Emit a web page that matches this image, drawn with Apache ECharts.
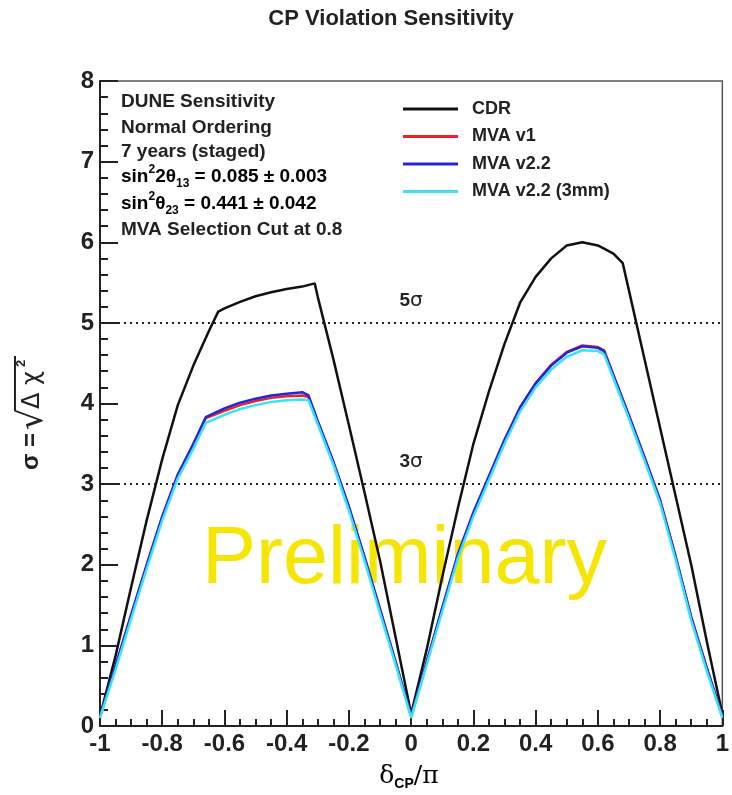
<!DOCTYPE html>
<html>
<head>
<meta charset="utf-8">
<script src="https://cdn.jsdelivr.net/npm/echarts@6/dist/echarts.min.js"></script>
<style>
html, body { margin: 0; padding: 0; background: #fff; }
#main { width: 732px; height: 795px; }
</style>
</head>
<body>
<div id="main"></div>
<script>
// CP violation sensitivity vs deltaCP/pi

var cdrX = [-1, -0.95, -0.9, -0.85, -0.8, -0.75, -0.7, -0.65, -0.62, -0.6, -0.55, -0.5, -0.45, -0.4, -0.35,
    -0.31, -0.3, -0.25, -0.2, -0.15, -0.1, -0.05, 0, 0.05, 0.1, 0.15, 0.2, 0.25, 0.3, 0.35, 0.4, 0.45,
    0.5, 0.55, 0.6, 0.65, 0.68, 0.7, 0.75, 0.8, 0.85, 0.9, 0.95, 1];
var cdrY = [0.12, 0.87, 1.72, 2.55, 3.31, 3.98, 4.47, 4.9, 5.14, 5.18, 5.26, 5.33, 5.38, 5.42, 5.45,
    5.49, 5.32, 4.55, 3.73, 2.9, 2.05, 1.1, 0.15, 0.95, 1.85, 2.7, 3.5, 4.15, 4.74, 5.25, 5.57, 5.8,
    5.96, 6.0, 5.96, 5.86, 5.74, 5.4, 4.55, 3.7, 2.85, 2.0, 1.05, 0.15];

var mvaX = [-1, -0.95, -0.9, -0.85, -0.8, -0.75, -0.7, -0.66, -0.6, -0.55, -0.5, -0.45, -0.4, -0.35,
    -0.33, -0.3, -0.25, -0.2, -0.15, -0.1, -0.05, 0, 0.05, 0.1, 0.15, 0.2, 0.25, 0.3, 0.35, 0.4, 0.45,
    0.5, 0.55, 0.6, 0.62, 0.65, 0.7, 0.75, 0.8, 0.85, 0.9, 0.95, 1];
var mvaV1 = [0.12, 0.74, 1.37, 1.99, 2.59, 3.11, 3.49, 3.82, 3.91, 3.98, 4.03, 4.07, 4.09, 4.1,
    4.08, 3.77, 3.27, 2.71, 2.09, 1.44, 0.79, 0.12, 0.79, 1.46, 2.12, 2.64, 3.09, 3.54, 3.95, 4.25, 4.48,
    4.64, 4.72, 4.7, 4.66, 4.35, 3.85, 3.33, 2.8, 2.1, 1.35, 0.72, 0.12];
var mvaV22 = [0.12, 0.75, 1.38, 2.0, 2.6, 3.12, 3.5, 3.83, 3.94, 4.01, 4.06, 4.1, 4.12, 4.14,
    4.1, 3.78, 3.28, 2.72, 2.1, 1.45, 0.8, 0.12, 0.8, 1.47, 2.13, 2.65, 3.1, 3.55, 3.95, 4.25, 4.47,
    4.63, 4.71, 4.69, 4.65, 4.35, 3.85, 3.33, 2.8, 2.1, 1.35, 0.72, 0.12];
var mva3mm = [0.1, 0.7, 1.33, 1.95, 2.55, 3.07, 3.44, 3.76, 3.86, 3.93, 3.98, 4.02, 4.04, 4.05,
    4.04, 3.74, 3.24, 2.67, 2.05, 1.4, 0.76, 0.1, 0.76, 1.42, 2.08, 2.6, 3.05, 3.5, 3.9, 4.2, 4.42,
    4.58, 4.66, 4.65, 4.61, 4.31, 3.81, 3.29, 2.76, 2.06, 1.31, 0.68, 0.1];

var seriesNames = ['CDR', 'MVA v1', 'MVA v2.2', 'MVA v2.2 (3mm)'];
var seriesColors = ['#111111', '#e8242b', '#2424dd', '#38e4f2'];
var sigmaLevels = [5, 3];
var infoLines = [
    'DUNE Sensitivity',
    'Normal Ordering',
    '7 years (staged)',
    '{t|sin}{sup|2}{t|2θ}{sub|13}{t| = 0.085 ± 0.003}',
    '{t|sin}{sup|2}{t|θ}{sub|23}{t| = 0.441 ± 0.042}',
    'MVA Selection Cut at 0.8'
];

function pairs(xs, ys) {
    var out = [];
    for (var i = 0; i < xs.length; i++) out.push([xs[i], ys[i]]);
    return out;
}

var FONT = '"Liberation Sans", Arial, Helvetica, sans-serif';
var richInfo = {
    t: { fontSize: 19, fontWeight: 'bold', fontFamily: FONT, color: '#222', lineHeight: 26, verticalAlign: 'middle' },
    sup: { fontSize: 12, fontWeight: 'bold', fontFamily: FONT, color: '#222', lineHeight: 14, verticalAlign: 'top' },
    sub: { fontSize: 12, fontWeight: 'bold', fontFamily: FONT, color: '#222', lineHeight: 12, verticalAlign: 'bottom' }
};

var graphics = [];
// Preliminary watermark
graphics.push({
    type: 'text', left: 202, top: 520, z: 0, silent: true,
    style: { text: 'Preliminary', font: '81px ' + FONT, fill: '#f6e500' }
});
// info block
var infoY = [101.7, 127.3, 151.7, 176.7, 203.3, 230];
infoLines.forEach(function (s, i) {
    var isRich = s.indexOf('{') === 0;
    graphics.push({
        type: 'text', x: 121, y: infoY[i], z: 10, silent: true,
        style: isRich ? {
            text: s, rich: richInfo, verticalAlign: 'middle', align: 'left'
        } : {
            text: s, font: 'bold 19px ' + FONT, fill: '#222', verticalAlign: 'middle', align: 'left'
        }
    });
});
// title
graphics.push({
    type: 'text', x: 391, y: 19, silent: true,
    style: { text: 'CP Violation Sensitivity', font: 'bold 22px ' + FONT, fill: '#222', align: 'center', verticalAlign: 'middle' }
});
// x axis name
graphics.push({
    type: 'text', x: 409, y: 776, silent: true,
    style: {
        text: '{d|δ}{s|CP}{d|/π}', align: 'center', verticalAlign: 'middle',
        rich: {
            d: { fontSize: 25, fontFamily: '"DejaVu Serif", serif', color: '#222', lineHeight: 30, verticalAlign: 'middle' },
            s: { fontSize: 14, fontWeight: 'bold', fontFamily: FONT, color: '#222', lineHeight: 12, verticalAlign: 'bottom' }
        }
    }
});
// y axis name: sigma = sqrt(delta chi^2), rotated
graphics.push({
    type: 'group', x: 31, y: 400, rotation: Math.PI / 2, silent: true,
    children: [
        { type: 'text', x: -70, y: 0, style: { text: 'σ =', font: 'bold 24px ' + FONT, fill: '#222', align: 'left', verticalAlign: 'middle' } },
        { type: 'text', x: -30, y: 2, style: { text: '√', font: '34px "DejaVu Sans", sans-serif', fill: '#222', align: 'left', verticalAlign: 'middle' } },
        { type: 'text', x: -9, y: 2, style: { text: 'Δ χ', font: '24px "DejaVu Sans", sans-serif', fill: '#222', align: 'left', verticalAlign: 'middle' } },
        { type: 'text', x: 33, y: -10, style: { text: '2', font: 'bold 13px ' + FONT, fill: '#222', align: 'left', verticalAlign: 'middle' } },
        { type: 'line', shape: { x1: -11, y1: -16, x2: 44, y2: -16 }, style: { stroke: '#222', lineWidth: 2 } }
    ]
});

var chart = echarts.init(document.getElementById('main'));

var series = [
    {
        name: seriesNames[0], type: 'line', data: pairs(cdrX, cdrY),
        symbol: 'none', lineStyle: { width: 2.5, color: seriesColors[0] }, itemStyle: { color: seriesColors[0] },
        z: 3,
        markLine: {
            silent: true, symbol: 'none', animation: false,
            lineStyle: { type: [2, 4], width: 2.2, color: '#222' },
            label: {
                position: 'middle', distance: 12,
                formatter: function (p) { return '{n|' + p.value + '}{g|σ}'; },
                rich: {
                    n: { fontSize: 19, fontWeight: 'bold', fontFamily: FONT, color: '#222' },
                    g: { fontSize: 20, fontFamily: '"DejaVu Sans", sans-serif', color: '#222' }
                }
            },
            data: sigmaLevels.map(function (v) { return { yAxis: v }; })
        }
    },
    { name: seriesNames[1], type: 'line', data: pairs(mvaX, mvaV1), symbol: 'none', z: 4,
      lineStyle: { width: 2.5, color: seriesColors[1] }, itemStyle: { color: seriesColors[1] } },
    { name: seriesNames[2], type: 'line', data: pairs(mvaX, mvaV22), symbol: 'none', z: 5,
      lineStyle: { width: 2.5, color: seriesColors[2] }, itemStyle: { color: seriesColors[2] } },
    { name: seriesNames[3], type: 'line', data: pairs(mvaX, mva3mm), symbol: 'none', z: 6,
      lineStyle: { width: 2.5, color: seriesColors[3] }, itemStyle: { color: seriesColors[3] } }
];

chart.setOption({
    animation: false,
    backgroundColor: '#fff',
    grid: {
        left: 100, right: 9, top: 81, bottom: 69,
        show: true, borderColor: '#555', borderWidth: 1.5, backgroundColor: 'transparent'
    },
    legend: {
        orient: 'vertical', left: 398, top: 95,
        icon: 'rect', itemWidth: 55, itemHeight: 3, itemGap: 9.5,
        data: seriesNames,
        textStyle: { fontSize: 18, fontWeight: 'bold', fontFamily: FONT, color: '#222', lineHeight: 18, padding: [0, 0, 0, 9] }
    },
    xAxis: {
        type: 'value', min: -1, max: 1, interval: 0.2,
        axisLine: { onZero: false, lineStyle: { color: '#222', width: 2 } },
        axisTick: { inside: true, length: 16, lineStyle: { color: '#222', width: 2 } },
        minorTick: { show: true, splitNumber: 4, length: 7, lineStyle: { color: '#222', width: 2 } },
        splitLine: { show: false },
        axisLabel: { margin: 6, fontSize: 24, fontWeight: 'bold', fontFamily: FONT, color: '#222',
            showMinLabel: true, showMaxLabel: true }
    },
    yAxis: {
        type: 'value', min: 0, max: 8, interval: 1,
        axisLine: { show: true, onZero: false, lineStyle: { color: '#222', width: 2 } },
        axisTick: { show: true, inside: true, length: 18, lineStyle: { color: '#222', width: 2 } },
        minorTick: { show: true, splitNumber: 5, length: 8, lineStyle: { color: '#222', width: 2 } },
        splitLine: { show: false },
        axisLabel: { margin: 6, fontSize: 24, fontWeight: 'bold', fontFamily: FONT, color: '#222' }
    },
    graphic: graphics,
    series: series
});
</script>
</body>
</html>
